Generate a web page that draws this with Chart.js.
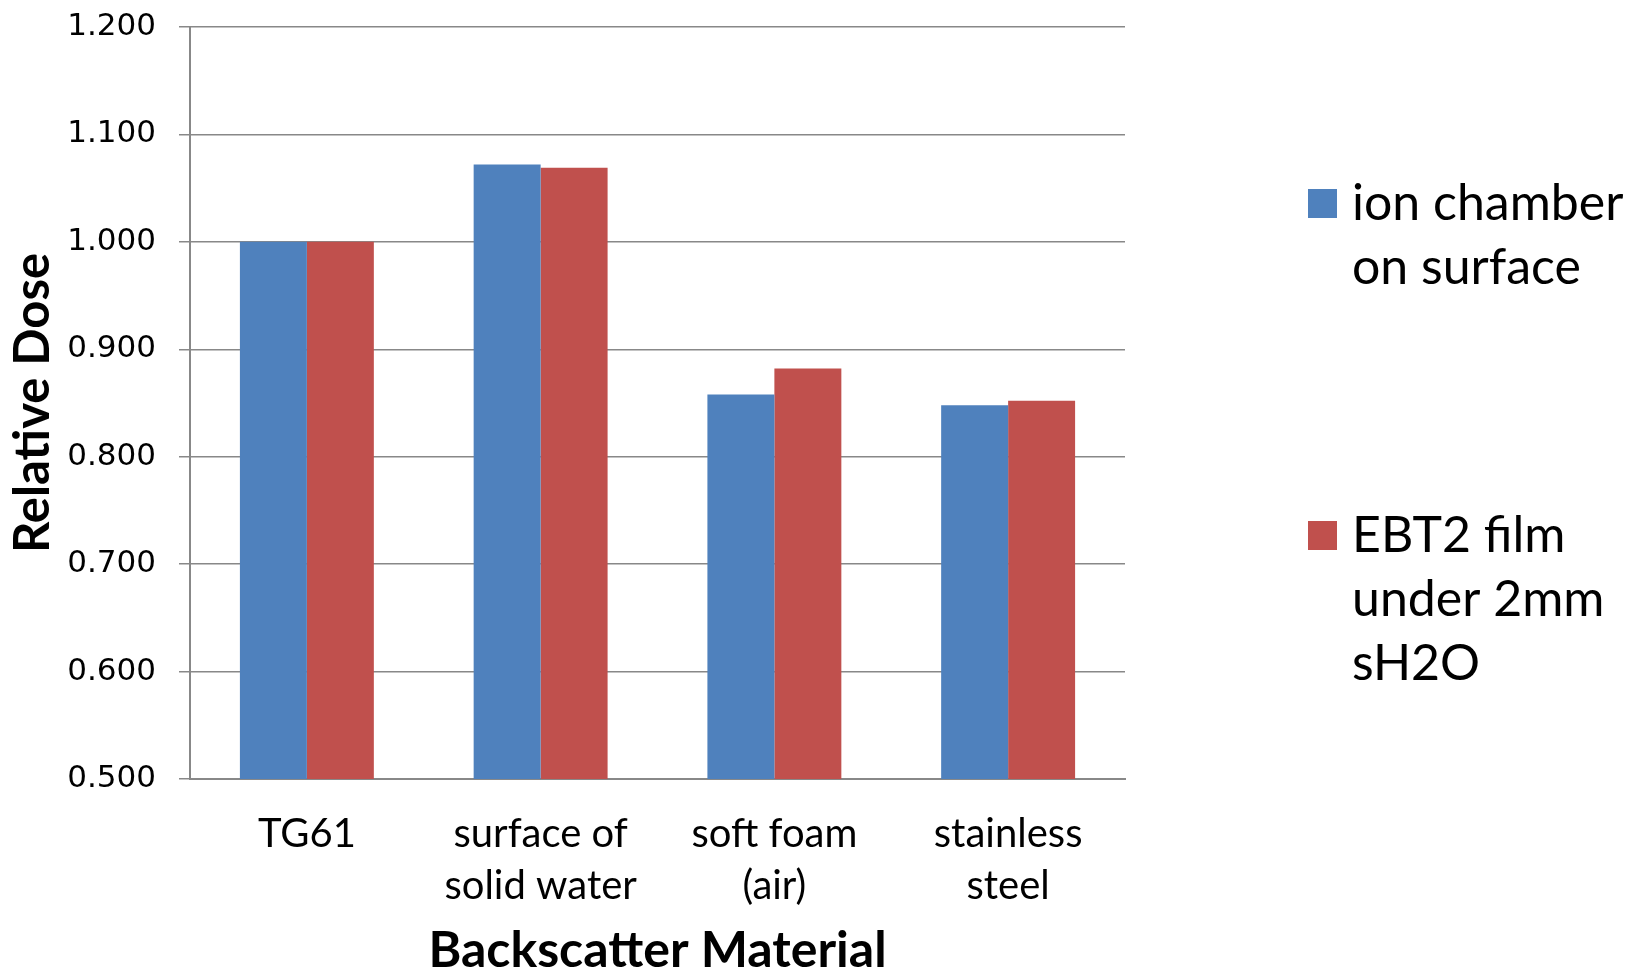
<!DOCTYPE html>
<html>
<head>
<meta charset="utf-8">
<script src="https://cdn.jsdelivr.net/npm/chart.js@4/dist/chart.umd.min.js"></script>
<style>
  html, body { margin: 0; padding: 0; background: #ffffff; }
  #wrap { width: 1629px; height: 975px; }
</style>
</head>
<body>
<div id="wrap"><canvas id="chart" width="1629" height="975"></canvas></div>
<script>
// Backscatter materials on the x axis (multi-line labels)
const categories = [
  ["TG61"],
  ["surface of", "solid water"],
  ["soft foam", "(air)"],
  ["stainless", "steel"]
];

// Relative dose, normalised to the TG61 condition
const ionChamber = [1.000, 1.072, 0.858, 0.848];
const ebt2Film   = [1.000, 1.069, 0.882, 0.852];

// Series names, split into the lines shown in the legend
const ionChamberName = ["ion chamber", "on surface"];
const ebt2FilmName   = ["EBT2 film", "under 2mm", "sH2O"];

// Value axis ticks
const yTicks = [0.5, 0.6, 0.7, 0.8, 0.9, 1.0, 1.1, 1.2];

const BLUE = "#4F81BD";
const RED = "#C0504D";
const GRID = "#888888";
const TEXT_FONT = "Lato, 'Open Sans', sans-serif";

// Wrapped legend drawn at the right of the plot area
const sideLegend = {
  id: "sideLegend",
  afterDraw(chart) {
    const ctx = chart.ctx;
    const area = chart.chartArea;
    const x0 = area.right + 183;
    const lineH = 64;
    const firstLine = [204, 536];
    ctx.save();
    ctx.font = "50px " + TEXT_FONT;
    ctx.fillStyle = "#000";
    ctx.textBaseline = "middle";
    ctx.textAlign = "left";
    chart.data.datasets.forEach((ds, i) => {
      const y = firstLine[i];
      ctx.fillStyle = ds.backgroundColor;
      ctx.fillRect(x0, y - 15, 29, 29);
      ctx.fillStyle = "#000";
      ds.legendLines.forEach((line, j) => {
        ctx.fillText(line, x0 + 44, y + j * lineH);
      });
    });
    ctx.restore();
  }
};

new Chart(document.getElementById("chart"), {
  type: "bar",
  data: {
    labels: categories,
    datasets: [
      {
        label: ionChamberName.join(" "),
        legendLines: ionChamberName,
        data: ionChamber,
        backgroundColor: BLUE,
        borderWidth: 0,
        categoryPercentage: 0.573,
        barPercentage: 1.0
      },
      {
        label: ebt2FilmName.join(" "),
        legendLines: ebt2FilmName,
        data: ebt2Film,
        backgroundColor: RED,
        borderWidth: 0,
        categoryPercentage: 0.573,
        barPercentage: 1.0
      }
    ]
  },
  options: {
    responsive: false,
    animation: false,
    devicePixelRatio: 1,
    layout: { padding: { top: 27, right: 504, bottom: 0, left: 0 } },
    plugins: {
      legend: { display: false },
      tooltip: { enabled: false }
    },
    scales: {
      x: {
        grid: { display: false },
        border: { display: true, color: GRID, width: 2 },
        ticks: {
          color: "#000",
          font: { family: TEXT_FONT, size: 40, lineHeight: 1.3 },
          padding: 21,
          maxRotation: 0,
          autoSkip: false
        },
        title: {
          display: true,
          text: "Backscatter Material",
          color: "#000",
          font: { family: TEXT_FONT, size: 50, weight: "bold", lineHeight: 1.0 },
          padding: { top: 0, bottom: -1 }
        },
        afterFit(scale) { scale.height = 196; }
      },
      y: {
        min: 0.5,
        max: 1.2,
        afterBuildTicks(scale) { scale.ticks = yTicks.map(v => ({ value: v })); },
        grid: { color: GRID, lineWidth: 1.5, tickLength: 11, drawTicks: true },
        border: { display: true, color: GRID, width: 2 },
        ticks: {
          color: "#000",
          font: { family: "'DejaVu Sans', Verdana, sans-serif", size: 31 },
          padding: 23,
          callback: (v) => Number(v).toFixed(3)
        },
        title: {
          display: true,
          text: "Relative Dose",
          color: "#000",
          font: { family: TEXT_FONT, size: 49, weight: "bold", lineHeight: 1.0 },
          padding: { top: 9, bottom: 0 }
        },
        afterFit(scale) {
          scale.width = 190;
          scale.paddingTop = 0;
          scale.paddingBottom = 0;
        }
      }
    }
  },
  plugins: [sideLegend]
});
</script>
</body>
</html>
